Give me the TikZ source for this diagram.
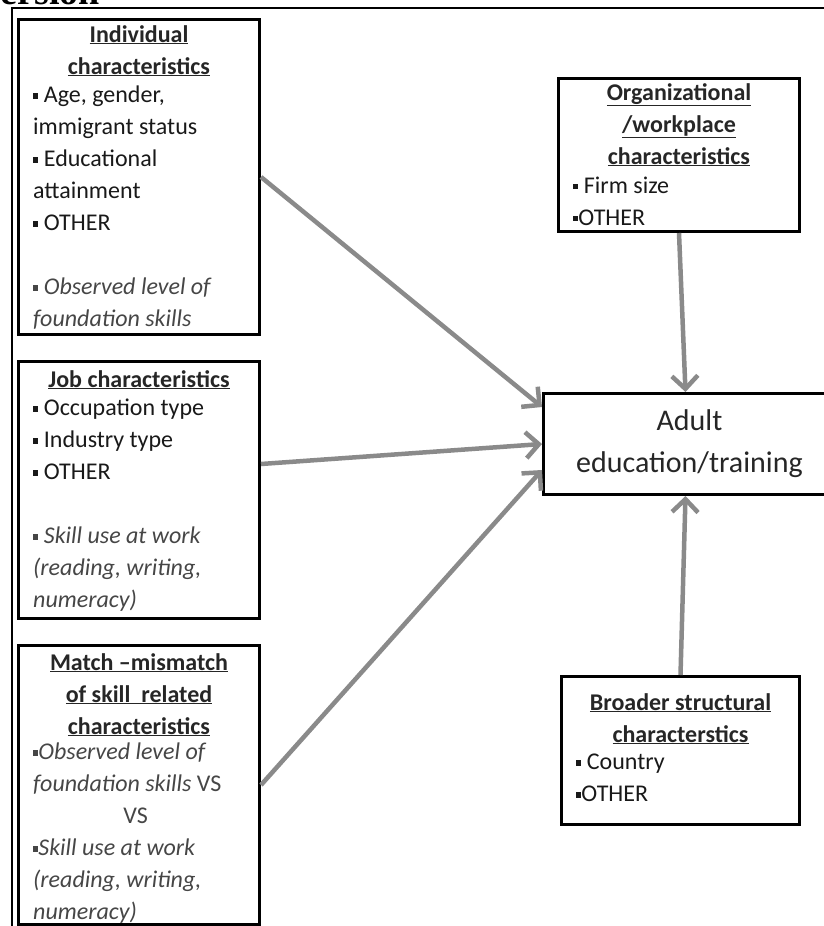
\documentclass[tikz,border=0pt]{standalone}
\usepackage{fontspec}
\setmainfont{Carlito}
\newfontfamily\headfont{Liberation Serif}
\usetikzlibrary{arrows.meta,positioning,calc}

\definecolor{flowgray}{RGB}{138,138,138}
\definecolor{itemgray}{RGB}{70,70,70}
\newcommand{\sqb}{\raisebox{0.32ex}{\rule{0.22em}{0.22em}}}
\newcommand{\uln}[1]{\underline{#1}}
\newcommand{\itm}[1]{{\color{itemgray}\itshape #1}}

\tikzset{
  factorbox/.style={draw, line width=3pt, minimum width=241pt, anchor=north west, inner sep=0pt},
  titletext/.style={align=center, font=\fontsize{24}{32}\selectfont\bfseries, text=black!85, inner sep=0pt},
  bodytext/.style={align=left, anchor=north west, font=\fontsize{24}{32}\selectfont, text=black!90, inner sep=0pt},
  flow/.style={draw=flowgray, line width=4.5pt, -{Straight Barb[length=13pt,width=26pt]}}
}

\begin{document}
\begin{tikzpicture}[x=1pt,y=-1pt]
\useasboundingbox (0,0) rectangle (823,926);
\node[anchor=base west, font=\headfont\bfseries\fontsize{38}{38}\selectfont] (ver) at (-3,5) {ersion};
\draw[line width=1.5pt] (12,940) |- (830,8);

% individual
\node[factorbox, minimum height=315pt] (indiv) at (17,18) {};
\node[titletext, below=7pt of indiv.north] (indivT) {\uln{Individual}\\\uln{characteristics}};
\node[bodytext] (indivB) at ($(indivT.south -| indiv.west)+(16,9)$) {\sqb\ Age, gender,\\ immigrant status\\ \sqb\ Educational\\ attainment\\ \sqb\ OTHER\\[32pt] \itm{\sqb\ Observed level of}\\ \itm{foundation skills}};

% job
\node[factorbox, minimum height=257pt] (job) at (17,360) {};
\node[titletext, below=10pt of job.north] (jobT) {\uln{Job characteristics}};
\node[bodytext] (jobB) at ($(jobT.south -| job.west)+(16,9)$) {\sqb\ Occupation type\\ \sqb\ Industry type\\ \sqb\ OTHER\\[32pt] \itm{\sqb\ Skill use at work}\\ \itm{(reading, writing,}\\ \itm{numeracy)}};

% match
\node[factorbox, minimum height=279pt] (match) at (17,644) {};
\node[titletext, below=9pt of match.north] (matchT) {\uln{Match --mismatch}\\\uln{of skill\ \ related}\\\uln{characteristics}};
\node[bodytext] (matchB) at ($(matchT.south -| match.west)+(16,6)$) {\itm{\sqb Observed level of}\\ \itm{foundation skills} {\color{itemgray}VS}\\ \makebox[205pt]{\color{itemgray}VS}\\ \itm{\sqb Skill use at work}\\ \itm{(reading, writing,}\\ \itm{numeracy)}};

% organizational
\node[factorbox, minimum height=153pt] (org) at (557,77) {};
\node[titletext, below=6pt of org.north] (orgT) {\uln{Organizational}\\\uln{/workplace}\\\uln{characteristics}};
\node[bodytext] (orgB) at ($(orgT.south -| org.west)+(16,10)$) {\sqb\ Firm size\\ \sqb OTHER};

% broader
\node[factorbox, minimum width=238pt, minimum height=148pt] (broad) at (560,675) {};
\node[titletext, below=18pt of broad.north] (broadT) {\uln{Broader structural}\\\uln{characterstics}};
\node[bodytext] (broadB) at ($(broadT.south -| broad.west)+(16,9)$) {\sqb\ Country\\ \sqb OTHER};

% outcome
\node[factorbox, minimum width=292pt, minimum height=101pt, align=center, text=black!85, font=\fontsize{30}{42}\selectfont] (adult) at (542,392) {Adult\\education/training};

\draw[flow] (indiv.east) -- ([yshift=37pt]adult.west);
\draw[flow] ([yshift=26pt]job.east) -- (adult.west);
\draw[flow] (match.east) -- ([yshift=-26pt]adult.west);
\draw[flow] (org.south) -- ([xshift=-4pt]adult.north);
\draw[flow] (broad.north) -- ([xshift=-4pt]adult.south);
\end{tikzpicture}
\end{document}
